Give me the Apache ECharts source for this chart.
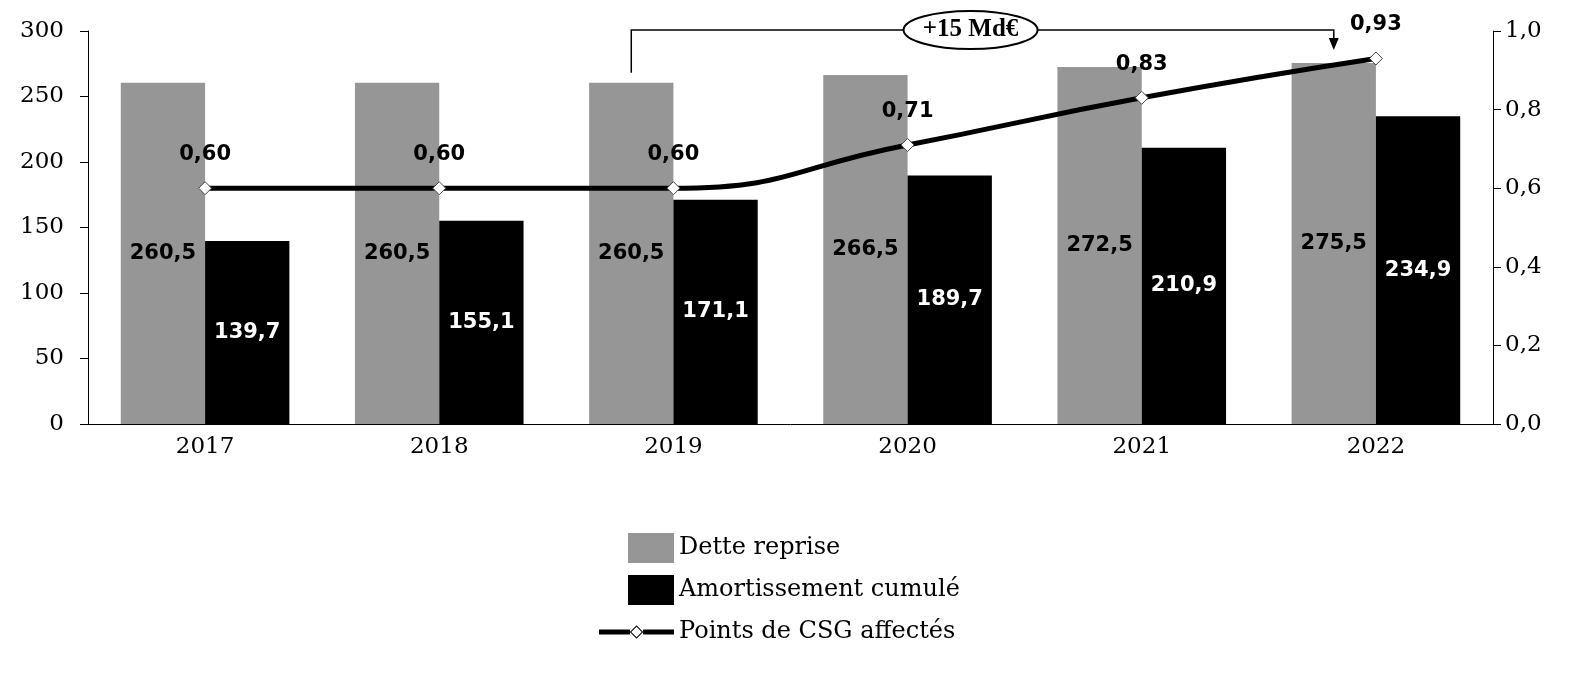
<!DOCTYPE html>
<html><head><meta charset="utf-8">
<script src="https://cdn.jsdelivr.net/npm/echarts@6/dist/echarts.min.js"></script>
<style>html,body{margin:0;padding:0;background:#fff}#c{width:1576px;height:673px}</style>
</head><body><div id="c"></div>
<script>
const categories = ['2017','2018','2019','2020','2021','2022'];
const detteReprise = [260.5, 260.5, 260.5, 266.5, 272.5, 275.5];
const amortissementCumule = [139.7, 155.1, 171.1, 189.7, 210.9, 234.9];
const pointsCSG = [0.60, 0.60, 0.60, 0.71, 0.83, 0.93];
const seriesNames = ['Dette reprise', 'Amortissement cumulé', 'Points de CSG affectés'];
const annotationText = '+15 Md€';

const fr = (v, d) => v.toFixed(d).replace('.', ',');
const serif = 'DejaVu Serif';
const sansB = 'DejaVu Sans';
const barIcon = 'path://M0,0 h0.01 v0.01 h-0.01 Z M29,0 H75 V30 H29 Z';
const lineIcon = 'path://M0,0 h0.01 v0.01 h-0.01 Z M75,30 h-0.01 v-0.01 h0.01 Z ' +
  'M0,12.5 H31 V17.5 H0 Z M44,12.5 H75 V17.5 H44 Z ' +
  'M37.5,8.3 L44.2,15 L37.5,21.7 L30.8,15 Z M37.5,9.8 L32.3,15 L37.5,20.2 L42.7,15 Z';

const chart = echarts.init(document.getElementById('c'), null, {renderer: 'canvas'});
const option = {
  animation: false,
  backgroundColor: '#fff',
  grid: {left: 88, right: 83, top: 31, bottom: 249, containLabel: false},
  legend: {
    orient: 'vertical', left: 599, top: 533, padding: 0,
    itemWidth: 75, itemHeight: 30, itemGap: 12,
    textStyle: {fontFamily: serif, fontSize: 24, color: '#000'},
    data: [
      {name: seriesNames[0], icon: barIcon},
      {name: seriesNames[1], icon: barIcon},
      {name: seriesNames[2], icon: lineIcon, itemStyle: {color: '#000', borderWidth: 0}}
    ]
  },
  xAxis: {
    type: 'category', data: categories,
    axisLine: {lineStyle: {color: '#000', width: 1}},
    axisTick: {show: false},
    axisLabel: {fontFamily: serif, fontSize: 23, color: '#000', margin: 12}
  },
  yAxis: [
    {type: 'value', min: 0, max: 300, interval: 50,
     axisLine: {show: true, lineStyle: {color: '#000'}},
     axisTick: {show: true, length: 8, lineStyle: {color: '#000'}},
     splitLine: {show: false},
     axisLabel: {fontFamily: serif, fontSize: 23, color: '#000', margin: 24}},
    {type: 'value', min: 0, max: 1, interval: 0.2, position: 'right',
     axisLine: {show: true, lineStyle: {color: '#000'}},
     axisTick: {show: true, length: 8, lineStyle: {color: '#000'}},
     splitLine: {show: false},
     axisLabel: {fontFamily: serif, fontSize: 23, color: '#000', margin: 12,
       formatter: v => fr(v, 1)}}
  ],
  series: [
    {name: seriesNames[0], type: 'bar', data: detteReprise, barWidth: '36%', barGap: '0%',
     itemStyle: {color: '#969696'},
     label: {show: true, position: 'inside', fontFamily: sansB, fontWeight: 'bold', fontSize: 21, color: '#000',
       formatter: p => fr(p.value, 1)}},
    {name: seriesNames[1], type: 'bar', data: amortissementCumule, barWidth: '36%', barGap: '0%',
     itemStyle: {color: '#000'},
     label: {show: true, position: 'inside', fontFamily: sansB, fontWeight: 'bold', fontSize: 21, color: '#fff',
       formatter: p => fr(p.value, 1)}},
    {name: seriesNames[2], type: 'line', yAxisIndex: 1, data: pointsCSG, smooth: 0.5,
     lineStyle: {color: '#000', width: 5},
     symbol: 'diamond', symbolSize: 13, showAllSymbol: true,
     itemStyle: {color: '#fff', borderColor: '#444', borderWidth: 1},
     label: {show: true, position: 'top', distance: 16, fontFamily: sansB, fontWeight: 'bold', fontSize: 21, color: '#000',
       formatter: p => fr(p.value, 2)},
     z: 5}
  ]
};
chart.setOption(option);

// Annotation bracket computed from axis scales
const c19 = chart.convertToPixel({xAxisIndex: 0}, categories[2]);
const c20 = chart.convertToPixel({xAxisIndex: 0}, categories[3]);
const c22 = chart.convertToPixel({xAxisIndex: 0}, categories[5]);
const band = c20 - c19;
const xL = c19 - band * 0.18;
const xR = c22 - band * 0.18;
const yTop = chart.convertToPixel({yAxisIndex: 0}, 300) - 1;
const yLeftBottom = chart.convertToPixel({yAxisIndex: 0}, detteReprise[2]) - 10;
const yArrowTip = chart.convertToPixel({yAxisIndex: 0}, detteReprise[5]) - 13;
const ex = xL + (xR - xL) * 0.483;
chart.setOption({
  graphic: [
    {type: 'polyline', z: 10, shape: {points: [[xL, yLeftBottom], [xL, yTop], [xR, yTop], [xR, yArrowTip - 11]]},
     style: {stroke: '#000', lineWidth: 1.5, fill: null}},
    {type: 'polygon', z: 10, shape: {points: [[xR - 5, yArrowTip - 12], [xR + 5, yArrowTip - 12], [xR, yArrowTip]]},
     style: {fill: '#000'}},
    {type: 'ellipse', z: 11, shape: {cx: ex, cy: yTop, rx: 67, ry: 19},
     style: {fill: '#fff', stroke: '#000', lineWidth: 2}},
    {type: 'text', z: 12, x: ex, y: yTop,
     style: {text: annotationText, fontFamily: 'Liberation Serif', fontWeight: 'bold', fontSize: 25, fill: '#000',
       align: 'center', verticalAlign: 'middle'}}
  ]
});
</script></body></html>
